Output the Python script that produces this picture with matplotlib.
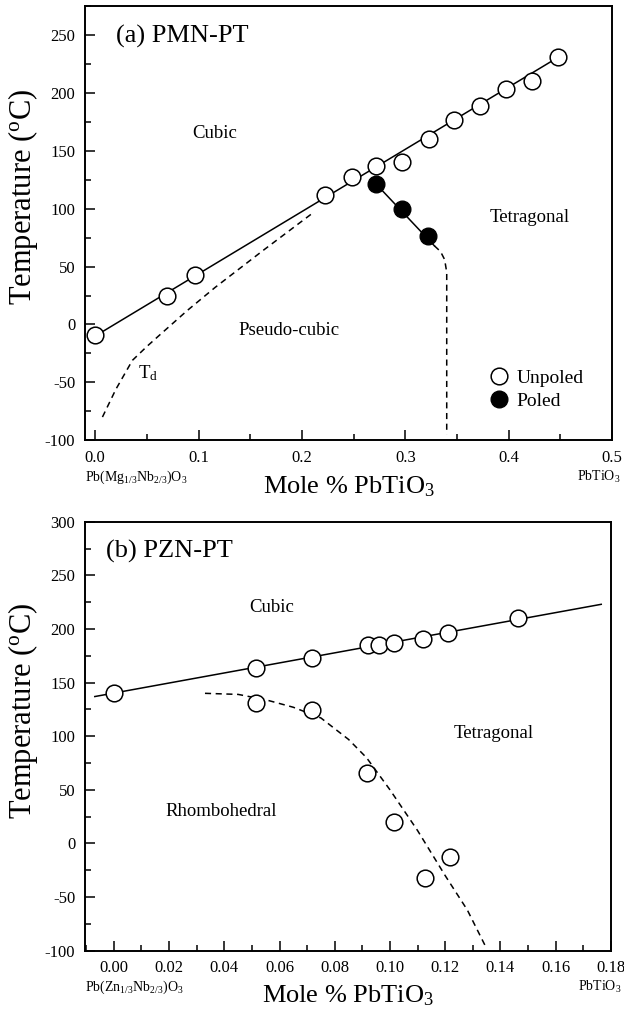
import numpy as np
import matplotlib
matplotlib.use("Agg")
import matplotlib.pyplot as plt
from matplotlib.ticker import MultipleLocator, FormatStrFormatter

plt.rcParams["font.family"] = ["Liberation Serif", "DejaVu Serif"]
plt.rcParams["mathtext.fontset"] = "custom"
plt.rcParams["mathtext.rm"] = "Liberation Serif"
plt.rcParams["mathtext.it"] = "Liberation Serif:italic"
plt.rcParams["axes.unicode_minus"] = False

# (a) PMN-PT
pmn_unpoled_x = [0.0, 0.069, 0.097, 0.222, 0.248, 0.272, 0.297, 0.323, 0.347, 0.372, 0.397, 0.422, 0.448]
pmn_unpoled_T = [-9, 25, 43, 112, 127, 137, 140, 160, 177, 189, 203, 210, 231]
pmn_poled_x = [0.272, 0.297, 0.322]
pmn_poled_T = [121, 100, 76]
pmn_fit_x = [0.0, 0.45]
pmn_fit_T = [-10, 232]
pmn_poled_line_x = [0.272, 0.328]
pmn_poled_line_T = [121, 68]
pmn_tdash_x = [0.328, 0.334, 0.338, 0.340, 0.340]
pmn_tdash_T = [68, 63, 56, 45, -95]
pmn_td_x = [0.007, 0.02, 0.036, 0.05, 0.0625, 0.089, 0.116, 0.1625, 0.21]
pmn_td_T = [-80, -56, -31, -19, -9, 12, 32, 64, 96]

# (b) PZN-PT
pzn_upper_x = [0.0, 0.0514, 0.0716, 0.0919, 0.0962, 0.1016, 0.112, 0.121, 0.1465]
pzn_upper_T = [140, 164, 173, 185, 185, 187, 191, 196, 210]
pzn_lower_x = [0.0514, 0.0716, 0.0915, 0.1013, 0.1125, 0.1219]
pzn_lower_T = [131, 124, 66, 20, -32, -13]
pzn_fit_x = [-0.0069, 0.1765]
pzn_fit_T = [137, 223]
pzn_dash_x = [0.033, 0.045, 0.055, 0.065, 0.075, 0.085, 0.0915, 0.1, 0.11, 0.12, 0.128, 0.135]
pzn_dash_T = [140, 139, 134, 127, 117, 97, 80, 50, 12, -30, -62, -98]

fig = plt.figure(figsize=(6.24, 10.19), dpi=100)
ax1 = fig.add_axes([0.136, 0.568, 0.845, 0.426])
ax2 = fig.add_axes([0.136, 0.067, 0.843, 0.421])

ms = 12
mk = dict(marker="o", ms=ms, mfc="white", mec="black", mew=1.1, ls="none", zorder=3)

# top panel
ax1.plot(pmn_fit_x, pmn_fit_T, "k-", lw=1.1)
ax1.plot(pmn_poled_line_x, pmn_poled_line_T, "k-", lw=1.1)
ax1.plot(pmn_tdash_x, pmn_tdash_T, "k--", lw=1.1, dashes=(4, 3))
ax1.plot(pmn_td_x, pmn_td_T, "k--", lw=1.1, dashes=(4, 3))
h_un, = ax1.plot(pmn_unpoled_x, pmn_unpoled_T, label="Unpoled", **mk)
h_po, = ax1.plot(pmn_poled_x, pmn_poled_T, marker="o", ms=ms, mfc="black", mec="black",
                 ls="none", zorder=3, label="Poled")
ax1.set_xlim(-0.01, 0.5)
ax1.set_ylim(-100, 275)
ax1.xaxis.set_major_locator(MultipleLocator(0.1))
ax1.xaxis.set_minor_locator(MultipleLocator(0.05))
ax1.yaxis.set_major_locator(MultipleLocator(50))
ax1.yaxis.set_minor_locator(MultipleLocator(25))
ax1.xaxis.set_major_formatter(FormatStrFormatter("%.1f"))
ax1.text(0.02, 249, "(a) PMN-PT", fontsize=19, va="center")
ax1.text(0.116, 165, "Cubic", fontsize=13.5, ha="center", va="center")
ax1.text(0.42, 92, "Tetragonal", fontsize=13.5, ha="center", va="center")
ax1.text(0.1875, -5, "Pseudo-cubic", fontsize=13.5, ha="center", va="center")
ax1.text(0.051, -42, "T$_{\\rm d}$", fontsize=13.5, ha="center", va="center")
ax1.legend(handles=[h_un, h_po], loc="center left", bbox_to_anchor=(0.73, 0.117),
           frameon=False, fontsize=14, handletextpad=0.3, labelspacing=0.3,
           handlelength=1.2)
ax1.set_xlabel("Mole % PbTiO$_3$", fontsize=19, labelpad=6)
ax1.text(0.0, -0.085, "Pb(Mg$_{1/3}$Nb$_{2/3}$)O$_3$", transform=ax1.transAxes,
         fontsize=10, ha="left", va="center")
ax1.text(1.015, -0.085, "PbTiO$_3$", transform=ax1.transAxes,
         fontsize=10, ha="right", va="center")

# bottom panel
ax2.plot(pzn_fit_x, pzn_fit_T, "k-", lw=1.1)
ax2.plot(pzn_dash_x, pzn_dash_T, "k--", lw=1.1, dashes=(4, 3))
ax2.plot(pzn_upper_x, pzn_upper_T, **mk)
ax2.plot(pzn_lower_x, pzn_lower_T, **mk)
ax2.set_xlim(-0.0105, 0.18)
ax2.set_ylim(-100, 300)
ax2.xaxis.set_major_locator(MultipleLocator(0.02))
ax2.xaxis.set_minor_locator(MultipleLocator(0.01))
ax2.yaxis.set_major_locator(MultipleLocator(50))
ax2.yaxis.set_minor_locator(MultipleLocator(25))
ax2.xaxis.set_major_formatter(FormatStrFormatter("%.2f"))
ax2.text(-0.003, 272, "(b) PZN-PT", fontsize=19, va="center")
ax2.text(0.057, 220, "Cubic", fontsize=13.5, ha="center", va="center")
ax2.text(0.1374, 103, "Tetragonal", fontsize=13.5, ha="center", va="center")
ax2.text(0.039, 30, "Rhombohedral", fontsize=13.5, ha="center", va="center")
ax2.set_xlabel("Mole % PbTiO$_3$", fontsize=19, labelpad=5)
ax2.text(0.0, -0.085, "Pb(Zn$_{1/3}$Nb$_{2/3}$)O$_3$", transform=ax2.transAxes,
         fontsize=10, ha="left", va="center")
ax2.text(1.02, -0.085, "PbTiO$_3$", transform=ax2.transAxes,
         fontsize=10, ha="right", va="center")

for ax in (ax1, ax2):
    ax.set_ylabel("Temperature ($^{\\rm o}$C)", fontsize=22)
    ax.yaxis.set_label_coords(-0.085, 0.56)
    ax.tick_params(which="both", direction="in", top=False, right=False, labelsize=12)
    ax.tick_params(which="major", length=7, width=1.1, pad=7)
    ax.tick_params(which="minor", length=4, width=1.1)
    for sp in ax.spines.values():
        sp.set_linewidth(1.4)

fig.savefig("out.png", dpi=100)
